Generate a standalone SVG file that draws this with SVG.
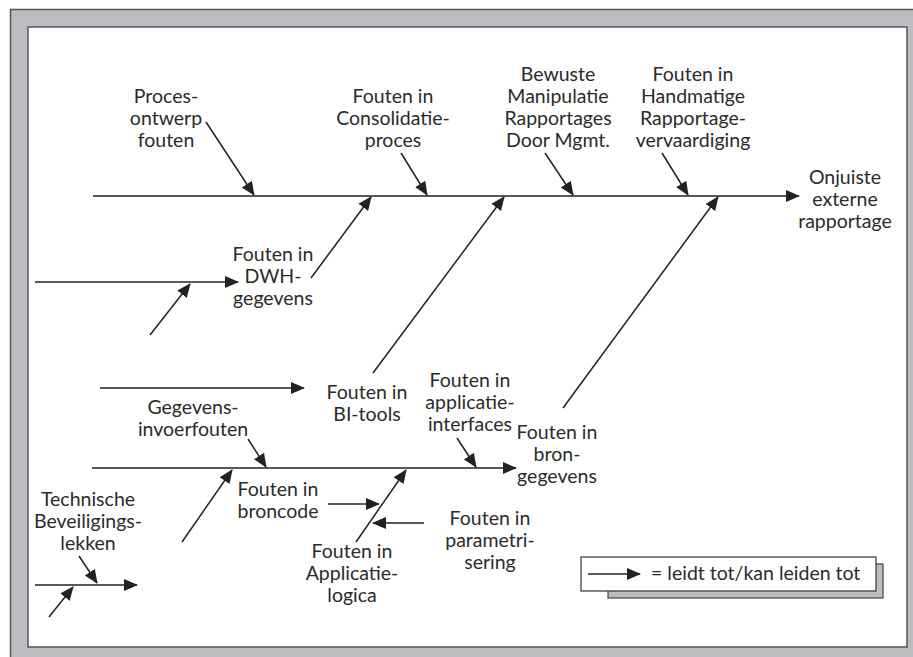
<svg xmlns="http://www.w3.org/2000/svg" width="913" height="657" viewBox="0 0 913 657">
  <style>
    .lbl { font-family: Lato, "Open Sans", "Liberation Sans", sans-serif; font-size: 19.5px; fill: #2b2b2b; text-anchor: middle; }
    .leg { font-family: Lato, "Open Sans", "Liberation Sans", sans-serif; font-size: 19.5px; fill: #2b2b2b; }
    .ln { stroke: #222; stroke-width: 1.5; fill: none; marker-end: url(#ah); }
    .frame { fill: #bcbdc0; stroke: #555; stroke-width: 1.5; }
  </style>
  <defs>
    <marker id="ah" markerUnits="userSpaceOnUse" markerWidth="14" markerHeight="14" refX="13" refY="6" orient="auto" viewBox="0 0 14 12">
      <path d="M0,0 L14,6 L0,12 z" fill="#222"/>
    </marker>
  </defs>

  <!-- frame -->
  <rect class="frame" x="10.5" y="9.5" width="910" height="660"/>
  <rect x="28" y="27" width="879" height="620" fill="#fff" stroke="#555" stroke-width="1.5"/>

  <!-- connectors -->
  <g id="connectors">
    <!-- main spine -->
    <line class="ln" x1="93" y1="196" x2="799" y2="196"/>
    <line class="ln" x1="206" y1="122" x2="254" y2="195"/>
    <line class="ln" x1="401" y1="153" x2="427" y2="195"/>
    <line class="ln" x1="545" y1="153" x2="573" y2="195"/>
    <line class="ln" x1="662" y1="153" x2="688" y2="195"/>
    <line class="ln" x1="311" y1="278" x2="371" y2="197"/>
    <line class="ln" x1="373" y1="373" x2="504" y2="197"/>
    <line class="ln" x1="563" y1="408" x2="718" y2="197"/>
    <!-- DWH branch -->
    <line class="ln" x1="35" y1="282" x2="238" y2="282"/>
    <line class="ln" x1="150" y1="335" x2="190" y2="284"/>
    <!-- BI tools branch -->
    <line class="ln" x1="100" y1="388" x2="304" y2="388"/>
    <!-- source data spine -->
    <line class="ln" x1="92" y1="468" x2="516" y2="468"/>
    <line class="ln" x1="248" y1="439" x2="266" y2="467"/>
    <line class="ln" x1="457" y1="438" x2="476" y2="467"/>
    <line class="ln" x1="182" y1="542" x2="232" y2="470"/>
    <line class="ln" x1="356" y1="542" x2="406" y2="470"/>
    <line class="ln" x1="328" y1="504" x2="379" y2="504"/>
    <line class="ln" x1="424" y1="523" x2="373" y2="523"/>
    <!-- security leaks branch -->
    <line class="ln" x1="79" y1="556" x2="97" y2="583"/>
    <line class="ln" x1="35" y1="585" x2="137" y2="585"/>
    <line class="ln" x1="49" y1="617" x2="73" y2="587"/>
  </g>

  <!-- nodes -->
  <g id="onjuiste">
    <text class="lbl" x="845" y="184">Onjuiste</text>
    <text class="lbl" x="845" y="206">externe</text>
    <text class="lbl" x="845" y="228">rapportage</text>
  </g>
  <g id="procesontwerp">
    <text class="lbl" x="166" y="103">Proces-</text>
    <text class="lbl" x="166" y="125">ontwerp</text>
    <text class="lbl" x="166" y="147">fouten</text>
  </g>
  <g id="consolidatie">
    <text class="lbl" x="393" y="103">Fouten in</text>
    <text class="lbl" x="393" y="125">Consolidatie-</text>
    <text class="lbl" x="393" y="147">proces</text>
  </g>
  <g id="manipulatie">
    <text class="lbl" x="558" y="81">Bewuste</text>
    <text class="lbl" x="558" y="103">Manipulatie</text>
    <text class="lbl" x="558" y="125">Rapportages</text>
    <text class="lbl" x="558" y="147">Door Mgmt.</text>
  </g>
  <g id="handmatig">
    <text class="lbl" x="693" y="81">Fouten in</text>
    <text class="lbl" x="693" y="103">Handmatige</text>
    <text class="lbl" x="693" y="125">Rapportage-</text>
    <text class="lbl" x="693" y="147">vervaardiging</text>
  </g>
  <g id="dwh">
    <text class="lbl" x="273" y="261">Fouten in</text>
    <text class="lbl" x="273" y="283">DWH-</text>
    <text class="lbl" x="273" y="305">gegevens</text>
  </g>
  <g id="bitools">
    <text class="lbl" x="367" y="399">Fouten in</text>
    <text class="lbl" x="367" y="421">BI-tools</text>
  </g>
  <g id="invoer">
    <text class="lbl" x="193" y="414">Gegevens-</text>
    <text class="lbl" x="193" y="436">invoerfouten</text>
  </g>
  <g id="interfaces">
    <text class="lbl" x="470" y="387">Fouten in</text>
    <text class="lbl" x="470" y="409">applicatie-</text>
    <text class="lbl" x="470" y="431">interfaces</text>
  </g>
  <g id="brongegevens">
    <text class="lbl" x="557" y="439">Fouten in</text>
    <text class="lbl" x="557" y="461">bron-</text>
    <text class="lbl" x="557" y="483">gegevens</text>
  </g>
  <g id="broncode">
    <text class="lbl" x="278" y="496">Fouten in</text>
    <text class="lbl" x="278" y="518">broncode</text>
  </g>
  <g id="applicatielogica">
    <text class="lbl" x="352" y="558">Fouten in</text>
    <text class="lbl" x="352" y="580">Applicatie-</text>
    <text class="lbl" x="352" y="602">logica</text>
  </g>
  <g id="parametrisering">
    <text class="lbl" x="490" y="525">Fouten in</text>
    <text class="lbl" x="490" y="547">parametri-</text>
    <text class="lbl" x="490" y="569">sering</text>
  </g>
  <g id="beveiliging">
    <text class="lbl" x="88" y="506">Technische</text>
    <text class="lbl" x="88" y="528">Beveiligings-</text>
    <text class="lbl" x="88" y="550">lekken</text>
  </g>

  <!-- legend -->
  <g id="legend">
    <rect x="608" y="564" width="275" height="34" fill="#bcbdc0" stroke="#444" stroke-width="1.2"/>
    <rect x="581" y="557" width="295" height="34" fill="#fff" stroke="#333" stroke-width="1.2"/>
    <line class="ln" x1="588" y1="574" x2="640" y2="574"/>
    <text class="leg" x="651" y="580">= leidt tot/kan leiden tot</text>
  </g>
</svg>
